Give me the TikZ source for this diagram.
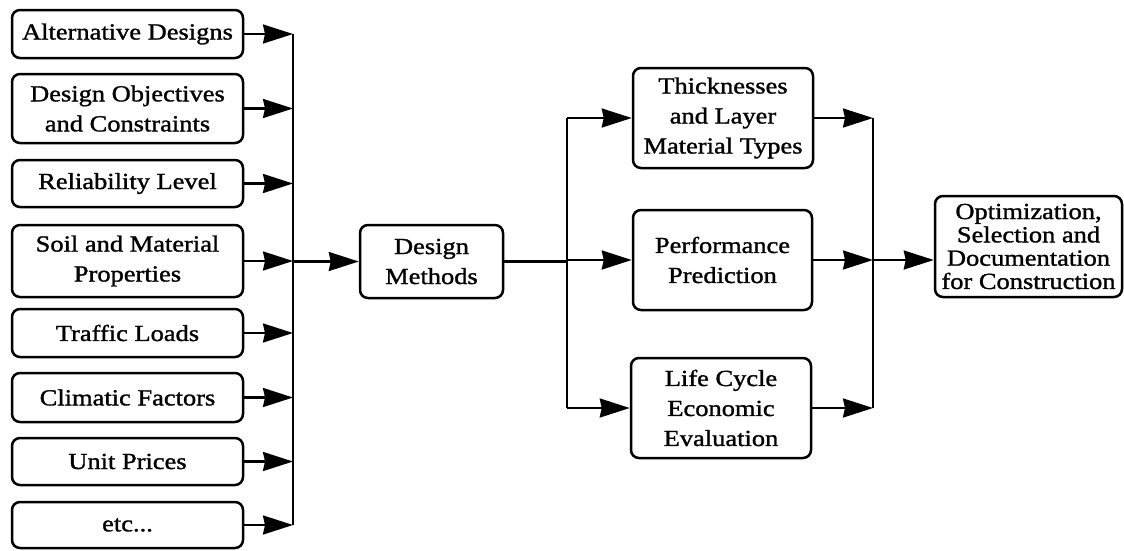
\documentclass[tikz,border=0pt]{standalone}
\usepackage{fontspec}
\setmainfont[FakeStretch=1.15,FakeBold=1.3]{Liberation Serif}
\usetikzlibrary{arrows.meta}
\tikzset{
  box/.style={draw, line width=2.5pt, rounded corners=8pt, inner sep=0pt, align=center,
    font=\fontsize{23}{30}\selectfont},
  arr/.style={line width=2.2pt, -{Stealth[length=30pt,width=19pt,inset=2pt]}},
  wire/.style={line width=2.2pt}
}
\begin{document}
\begin{tikzpicture}[x=1pt,y=-1pt]
\useasboundingbox (0,0) rectangle (1124,550);
% left inputs
\node[box, minimum width=231pt, minimum height=48pt] (a1) at (127.5,34) {Alternative Designs};
\node[box, minimum width=231pt, minimum height=69pt] (a2) at (127.5,108.5) {Design Objectives\\and Constraints};
\node[box, minimum width=231pt, minimum height=47pt] (a3) at (127.5,183.5) {Reliability Level};
\node[box, minimum width=231pt, minimum height=72pt] (a4) at (127.5,261) {Soil and Material\\Properties};
\node[box, minimum width=231pt, minimum height=48pt] (a5) at (127.5,333) {Traffic Loads};
\node[box, minimum width=231pt, minimum height=49pt] (a6) at (127.5,397.5) {Climatic Factors};
\node[box, minimum width=231pt, minimum height=47pt] (a7) at (127.5,461.5) {Unit Prices};
\node[box, minimum width=231pt, minimum height=46pt] (a8) at (127.5,525) {etc...};
\coordinate (bus1) at (293,0);
% design methods
\node[box, minimum width=143pt, minimum height=73pt] (dm) at (431.5,261.5) {Design\\Methods};
\coordinate (bus2) at (567,0);
% middle boxes
\node[box, minimum width=180pt, minimum height=100pt] (t) at (723,118) {Thicknesses\\and Layer\\Material Types};
\node[box, minimum width=179pt, minimum height=100pt] (p) at (722.5,260) {Performance\\Prediction};
\node[box, minimum width=180pt, minimum height=100pt] (l) at (721,408) {Life Cycle\\Economic\\Evaluation};
\coordinate (bus3) at (873,0);
% output
\node[box, minimum width=187pt, minimum height=101pt, font=\fontsize{23}{23.3}\selectfont] (opt) at (1028.5,246.5) {Optimization,\\Selection and\\Documentation\\for Construction};
\coordinate (j3) at (873,260);
% connectors left
\foreach \n in {a1,a2,a3,a4,a5,a6,a7,a8}
  \draw[arr] (\n.east) -- (\n.east -| bus1);
\draw[wire] (a1.east -| bus1) -- (a8.east -| bus1);
\draw[arr] (bus1 |- dm.west) -- (dm.west);
% connectors middle
\draw[wire] (dm.east) -- (dm.east -| bus2);
\draw[wire] (bus2 |- t.west) -- (bus2 |- l.west);
\foreach \n in {t,p,l}
  \draw[arr] (bus2 |- \n.west) -- (\n.west);
\foreach \n in {t,p,l}
  \draw[arr] (\n.east) -- (\n.east -| bus3);
\draw[wire] (bus3 |- t.east) -- (bus3 |- l.east);
\draw[arr] (j3) -- (j3 -| opt.west);
\end{tikzpicture}
\end{document}
